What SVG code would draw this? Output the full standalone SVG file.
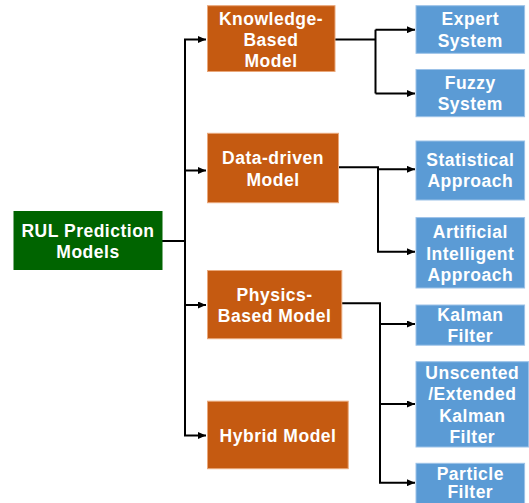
<svg xmlns="http://www.w3.org/2000/svg" width="529" height="503" viewBox="0 0 529 503">
<style>
.root{fill:#006400}
.mid{fill:#C55A11;stroke:#E9A77A;stroke-width:1}
.leaf{fill:#5B9BD5;stroke:#9CC2E8;stroke-width:1}
text{font-family:"Liberation Sans",Arial,sans-serif;font-weight:bold;font-size:17.5px;letter-spacing:0.5px;fill:#fff;text-anchor:middle;dominant-baseline:central}
.c{fill:none;stroke:#000;stroke-width:2}
</style>
<defs>
<marker id="ah" markerWidth="8" markerHeight="7" refX="8" refY="3.5" orient="auto" markerUnits="userSpaceOnUse">
<path d="M0,0 L8,3.5 L0,7 Z" fill="#000"/>
</marker>
</defs>
<g id="connectors">
<path class="c" d="M162,241 H185"/>
<path class="c" d="M185,435 V39.5 H206" marker-end="url(#ah)"/>
<path class="c" d="M185,170.5 H206" marker-end="url(#ah)"/>
<path class="c" d="M185,305 H206" marker-end="url(#ah)"/>
<path class="c" d="M184,435.5 H206" marker-end="url(#ah)"/>
<path class="c" d="M335,39.5 H375.5"/>
<path class="c" d="M375.5,29.7 V93.5"/>
<path class="c" d="M375.5,29.7 H415" marker-end="url(#ah)"/>
<path class="c" d="M375.5,93.5 H415" marker-end="url(#ah)"/>
<path class="c" d="M338,167.3 H378 V251.7 H415" marker-end="url(#ah)"/>
<path class="c" d="M378,169.3 H415" marker-end="url(#ah)"/>
<path class="c" d="M342,303.3 H380 V482.7 H415" marker-end="url(#ah)"/>
<path class="c" d="M380,324 H415" marker-end="url(#ah)"/>
<path class="c" d="M380,404 H415" marker-end="url(#ah)"/>
</g>
<g id="root">
<rect class="root" x="13.5" y="211" width="149" height="59"/>
<text x="88" y="230.7">RUL Prediction</text>
<text x="88" y="252">Models</text>
</g>
<g id="knowledge">
<rect class="mid" x="207.5" y="5.7" width="127.5" height="65.8"/>
<text x="271" y="18.6">Knowledge-</text>
<text x="271" y="39.5">Based</text>
<text x="271" y="61">Model</text>
</g>
<g id="datadriven">
<rect class="mid" x="207.5" y="133.3" width="131" height="69.4"/>
<text x="273" y="158">Data-driven</text>
<text x="273" y="179.5">Model</text>
</g>
<g id="physics">
<rect class="mid" x="207.5" y="270.5" width="134.3" height="68.2"/>
<text x="274.6" y="294.8">Physics-</text>
<text x="274.6" y="315.7">Based Model</text>
</g>
<g id="hybrid">
<rect class="mid" x="207.5" y="401.2" width="140.7" height="67.5"/>
<text x="278" y="435.6">Hybrid Model</text>
</g>
<g id="expert">
<rect class="leaf" x="416" y="5.7" width="108.6" height="47.6"/>
<text x="470.3" y="19.4">Expert</text>
<text x="470.3" y="40.6">System</text>
</g>
<g id="fuzzy">
<rect class="leaf" x="416" y="69.5" width="108.6" height="47.2"/>
<text x="470.3" y="82.5">Fuzzy</text>
<text x="470.3" y="104">System</text>
</g>
<g id="statistical">
<rect class="leaf" x="416" y="141" width="108.6" height="59"/>
<text x="470.3" y="160">Statistical</text>
<text x="470.3" y="181.3">Approach</text>
</g>
<g id="ai">
<rect class="leaf" x="416" y="217.6" width="108.6" height="70.4"/>
<text x="470.3" y="232.2">Artificial</text>
<text x="470.3" y="253.6">Intelligent</text>
<text x="470.3" y="275">Approach</text>
</g>
<g id="kalman">
<rect class="leaf" x="416" y="305" width="108.6" height="40.2"/>
<text x="470.3" y="315">Kalman</text>
<text x="470.3" y="335.5">Filter</text>
</g>
<g id="ukf">
<rect class="leaf" x="416" y="361.7" width="112.5" height="85.3"/>
<text x="472.3" y="373.2">Unscented</text>
<text x="472.3" y="394.4">/Extended</text>
<text x="472.3" y="415.8">Kalman</text>
<text x="472.3" y="437.2">Filter</text>
</g>
<g id="particle">
<rect class="leaf" x="416" y="463.3" width="108.6" height="41"/>
<text x="470.3" y="474">Particle</text>
<text x="470.3" y="492.3">Filter</text>
</g>
</svg>
